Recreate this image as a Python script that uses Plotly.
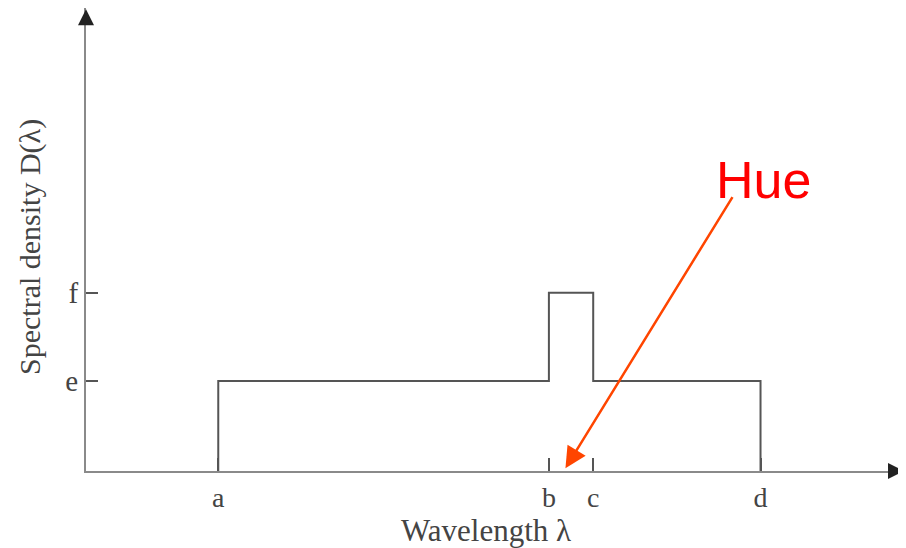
import plotly.graph_objects as go

# Data (arbitrary units)
edge_names = ["a", "b", "c", "d"]
edge_pos = [2.0, 7.0, 7.67, 10.2]          # wavelengths a, b, c, d
level_names = ["e", "f"]
level_vals = [1.0, 1.98]                    # spectral density levels e, f
step_levels = [0.0, 1.0, 1.98, 1.0, 0.0]    # D(λ) at each edge (hv steps)

x_max = 12.4
y_max = 5.144

serif = "Liberation Serif, Times New Roman, serif"
ink = "#444444"

# page has an 8px body margin; figure is sized/positioned to compensate
OFF = 8
W, H = 906 - OFF, 548 - OFF
L, B = 86 - OFF, 548 - 471
PW, PH = W - L, H - B

step_x = [edge_pos[0]] + edge_pos
fig = go.Figure()
fig.add_trace(go.Scatter(
    x=step_x, y=step_levels, mode="lines",
    line=dict(color="#555555", width=2, shape="hv"),
    cliponaxis=False, hoverinfo="skip", showlegend=False))

fig.update_layout(
    width=W, height=H,
    margin=dict(l=L, r=0, t=0, b=B, autoexpand=False),
    paper_bgcolor="white", plot_bgcolor="white",
    xaxis=dict(range=[0, x_max], showgrid=False, zeroline=False, automargin=False,
               showline=True, linecolor="#8a8a8a", linewidth=2,
               tickvals=edge_pos, ticktext=edge_names,
               ticks="inside", ticklen=13, tickwidth=1.5, tickcolor="#555555",
               tickfont=dict(family=serif, size=28, color=ink)),
    yaxis=dict(range=[0, y_max], showgrid=False, zeroline=False, automargin=False,
               showline=True, linecolor="#8a8a8a", linewidth=2,
               tickvals=level_vals, ticktext=level_names,
               ticks="inside", ticklen=12, tickwidth=1.5, tickcolor="#555555",
               tickfont=dict(family=serif, size=29, color=ink)),
    showlegend=False,
)

annotations = [
    # axis arrow heads
    dict(x=12.37, y=0, xref="x", yref="y", ax=-14, ay=0, text="",
         showarrow=True, arrowhead=2, arrowsize=1.6, arrowwidth=2, arrowcolor="#222222"),
    dict(x=0, y=5.13, xref="x", yref="y", ax=0, ay=14, text="",
         showarrow=True, arrowhead=2, arrowsize=1.6, arrowwidth=2, arrowcolor="#222222"),
    # axis titles (page pixel positions)
    dict(x=486, y=530, text="Wavelength λ", showarrow=False,
         font=dict(family=serif, size=31, color=ink)),
    dict(x=30, y=247, text="Spectral density D(λ)", showarrow=False, textangle=-90,
         font=dict(family=serif, size=30, color=ink)),
    # Hue label and arrow
    dict(x=763, y=180, text="Hue", showarrow=False,
         font=dict(family="Liberation Sans, Arial, sans-serif", size=52, color="#ff0000")),
    dict(x=7.25, y=0.03, xref="x", yref="y", ax=9.79, ay=3.06, axref="x", ayref="y",
         text="", showarrow=True, arrowhead=2, arrowsize=1.7, arrowwidth=2.5,
         arrowcolor="#ff4500"),
]
# page-pixel-positioned text annotations -> paper coords
for ann in annotations:
    if ann.get("xref") is None:
        px, py = ann["x"], ann["y"]
        ann["xref"] = "paper"; ann["yref"] = "paper"
        ann["x"] = (px - 86) / PW
        ann["y"] = (471 - py) / PH
        ann["xanchor"] = "center"; ann["yanchor"] = "middle"
fig.update_layout(annotations=annotations)

fig.write_html("out.html")
